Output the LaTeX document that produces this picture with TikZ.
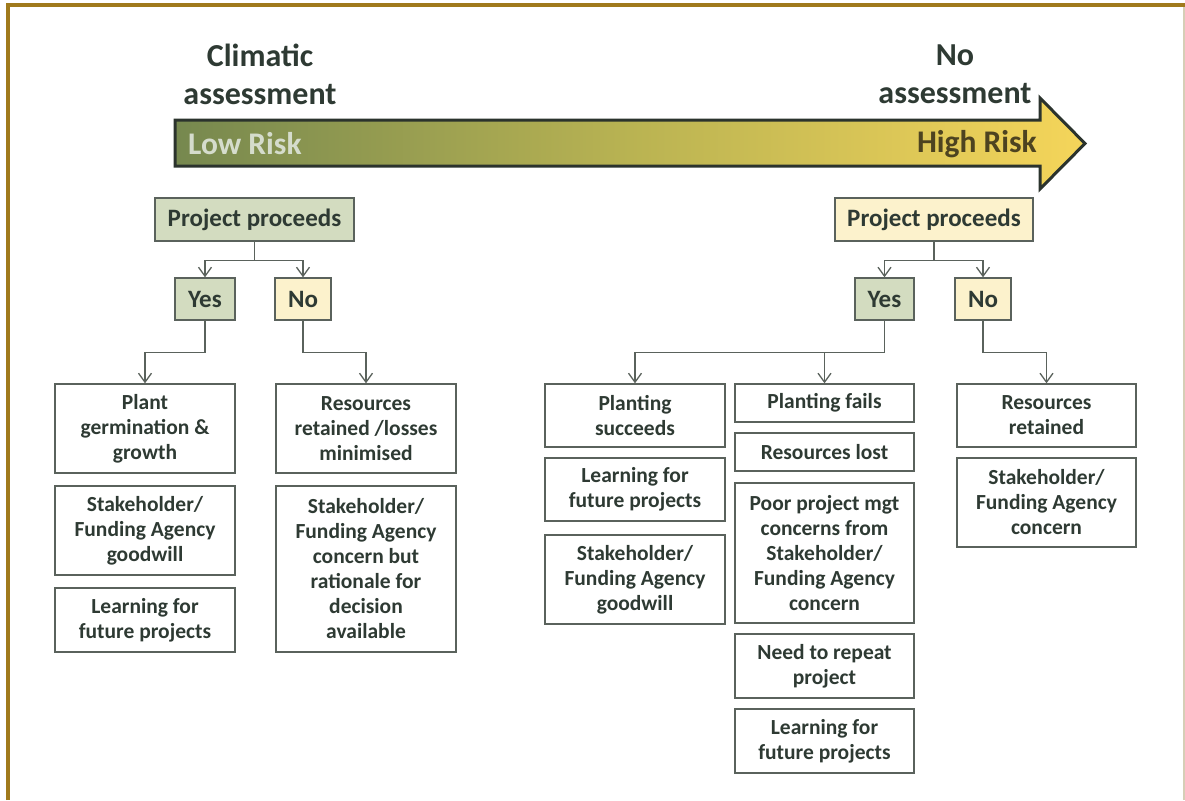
\documentclass[tikz,border=0pt]{standalone}
\usepackage{fontspec}
\setmainfont{Carlito}
\usetikzlibrary{arrows.meta}
\definecolor{txt}{HTML}{2E3A33}
\definecolor{boxline}{HTML}{5A625C}
\definecolor{gfill}{HTML}{D3DCC0}
\definecolor{yfill}{HTML}{FCF2CC}
\definecolor{gold}{HTML}{A07A1C}
\definecolor{paleline}{HTML}{D6CEB6}
\definecolor{arrowline}{HTML}{2B332D}
\definecolor{arrowleft}{HTML}{76884F}
\definecolor{arrowmid}{HTML}{B9B352}
\definecolor{arrowright}{HTML}{F5D55A}
\definecolor{lowtxt}{HTML}{D5DCCC}
\definecolor{hightxt}{HTML}{4D4320}
\begin{document}
\begin{tikzpicture}[x=1pt,y=-1pt,
  box/.style={draw=boxline, line width=1.4pt, fill=white, align=center, inner sep=0pt, text=txt, font=\bfseries\fontsize{21.5}{25}\selectfont},
  head/.style={box, font=\bfseries\fontsize{25}{28}\selectfont},
  conn/.style={draw=boxline, line width=1.4pt, -{Straight Barb[length=9pt,width=13pt,line width=1.3pt]}},
  big/.style={text=txt, align=center, inner sep=0pt, font=\bfseries\fontsize{32}{38}\selectfont},
  risk/.style={inner sep=0pt, font=\bfseries\fontsize{31.5}{34}\selectfont}]
\useasboundingbox (0,0) rectangle (1185,800);
\fill[white] (0,0) rectangle (1185,800);
% frame
\draw[gold, line width=4pt] (8,800) -- (8,5) -- (1185,5);
\draw[paleline, line width=1.5pt] (1184,7) -- (1184,800);
% big arrow
\path[left color=arrowleft, right color=arrowright, middle color=arrowmid, draw=arrowline, line width=3pt, line join=miter]
  (175,120) -- (1040,120) -- (1040,98) -- (1085,143.5) -- (1040,189) -- (1040,166) -- (175,166) -- cycle;
\node[risk, text=lowtxt, anchor=west] (low) at (188,144) {Low Risk};
\node[risk, text=hightxt, anchor=east] (high) at (1037,144) {High Risk};
\node[big] (clim) at (260,74) {Climatic\\assessment};
\node[big] (noass) at (955,74) {No\\assessment};
% left tree
\node[head, fill=gfill, minimum width=199, minimum height=43] (ppL) at (254.5,219.5) {Project proceeds};
\node[head, fill=gfill, minimum width=60, minimum height=42] (yesL) at (205,299) {Yes};
\node[head, fill=yfill, minimum width=56, minimum height=42] (noL) at (303,299) {No};
\node[box, minimum width=180, minimum height=89] (L1) at (145,428.5) {Plant\\germination \&\\growth};
\node[box, minimum width=180, minimum height=89] (L2) at (145,530.5) {Stakeholder/\\Funding Agency\\goodwill};
\node[box, minimum width=180, minimum height=64] (L3) at (145,620) {Learning for\\future projects};
\node[box, minimum width=180, minimum height=89] (L4) at (366,428.5) {Resources\\retained /losses\\minimised};
\node[box, minimum width=180, minimum height=166] (L5) at (366,569) {Stakeholder/\\Funding Agency\\concern but\\rationale for\\decision\\available};
\draw[conn] (ppL.south) -- ++(0,19) -| (yesL.north);
\draw[conn] (ppL.south) -- ++(0,19) -| (noL.north);
\draw[conn] (yesL.south) -- ++(0,32) -| (L1.north);
\draw[conn] (noL.south) -- ++(0,32) -| (L4.north);
% right tree
\node[head, fill=yfill, minimum width=198, minimum height=43] (ppR) at (934,219.5) {Project proceeds};
\node[head, fill=gfill, minimum width=59, minimum height=42] (yesR) at (884.5,299) {Yes};
\node[head, fill=yfill, minimum width=56, minimum height=42] (noR) at (983,299) {No};
\node[box, minimum width=180, minimum height=63] (A1) at (635,415.5) {Planting\\succeeds};
\node[box, minimum width=180, minimum height=63] (A2) at (635,489.5) {Learning for\\future projects};
\node[box, minimum width=180, minimum height=89] (A3) at (635,579.5) {Stakeholder/\\Funding Agency\\goodwill};
\node[box, minimum width=179, minimum height=38] (B1) at (824.5,403) {Planting fails};
\node[box, minimum width=179, minimum height=38] (B2) at (824.5,452) {Resources lost};
\node[box, minimum width=179, minimum height=140] (B3) at (824.5,553) {Poor project mgt\\concerns from\\Stakeholder/\\Funding Agency\\concern};
\node[box, minimum width=179, minimum height=64] (B4) at (824.5,666) {Need to repeat\\project};
\node[box, minimum width=179, minimum height=64] (B5) at (824.5,741) {Learning for\\future projects};
\node[box, minimum width=179, minimum height=63] (C1) at (1046.5,415.5) {Resources\\retained};
\node[box, minimum width=179, minimum height=89] (C2) at (1046.5,502.5) {Stakeholder/\\Funding Agency\\concern};
\draw[conn] (ppR.south) -- ++(0,19) -| (yesR.north);
\draw[conn] (ppR.south) -- ++(0,19) -| (noR.north);
\draw[conn] (yesR.south) -- ++(0,32) -| (A1.north);
\draw[conn] (yesR.south) -- ++(0,32) -| (B1.north);
\draw[conn] (noR.south) -- ++(0,32) -| (C1.north);
\end{tikzpicture}
\end{document}
